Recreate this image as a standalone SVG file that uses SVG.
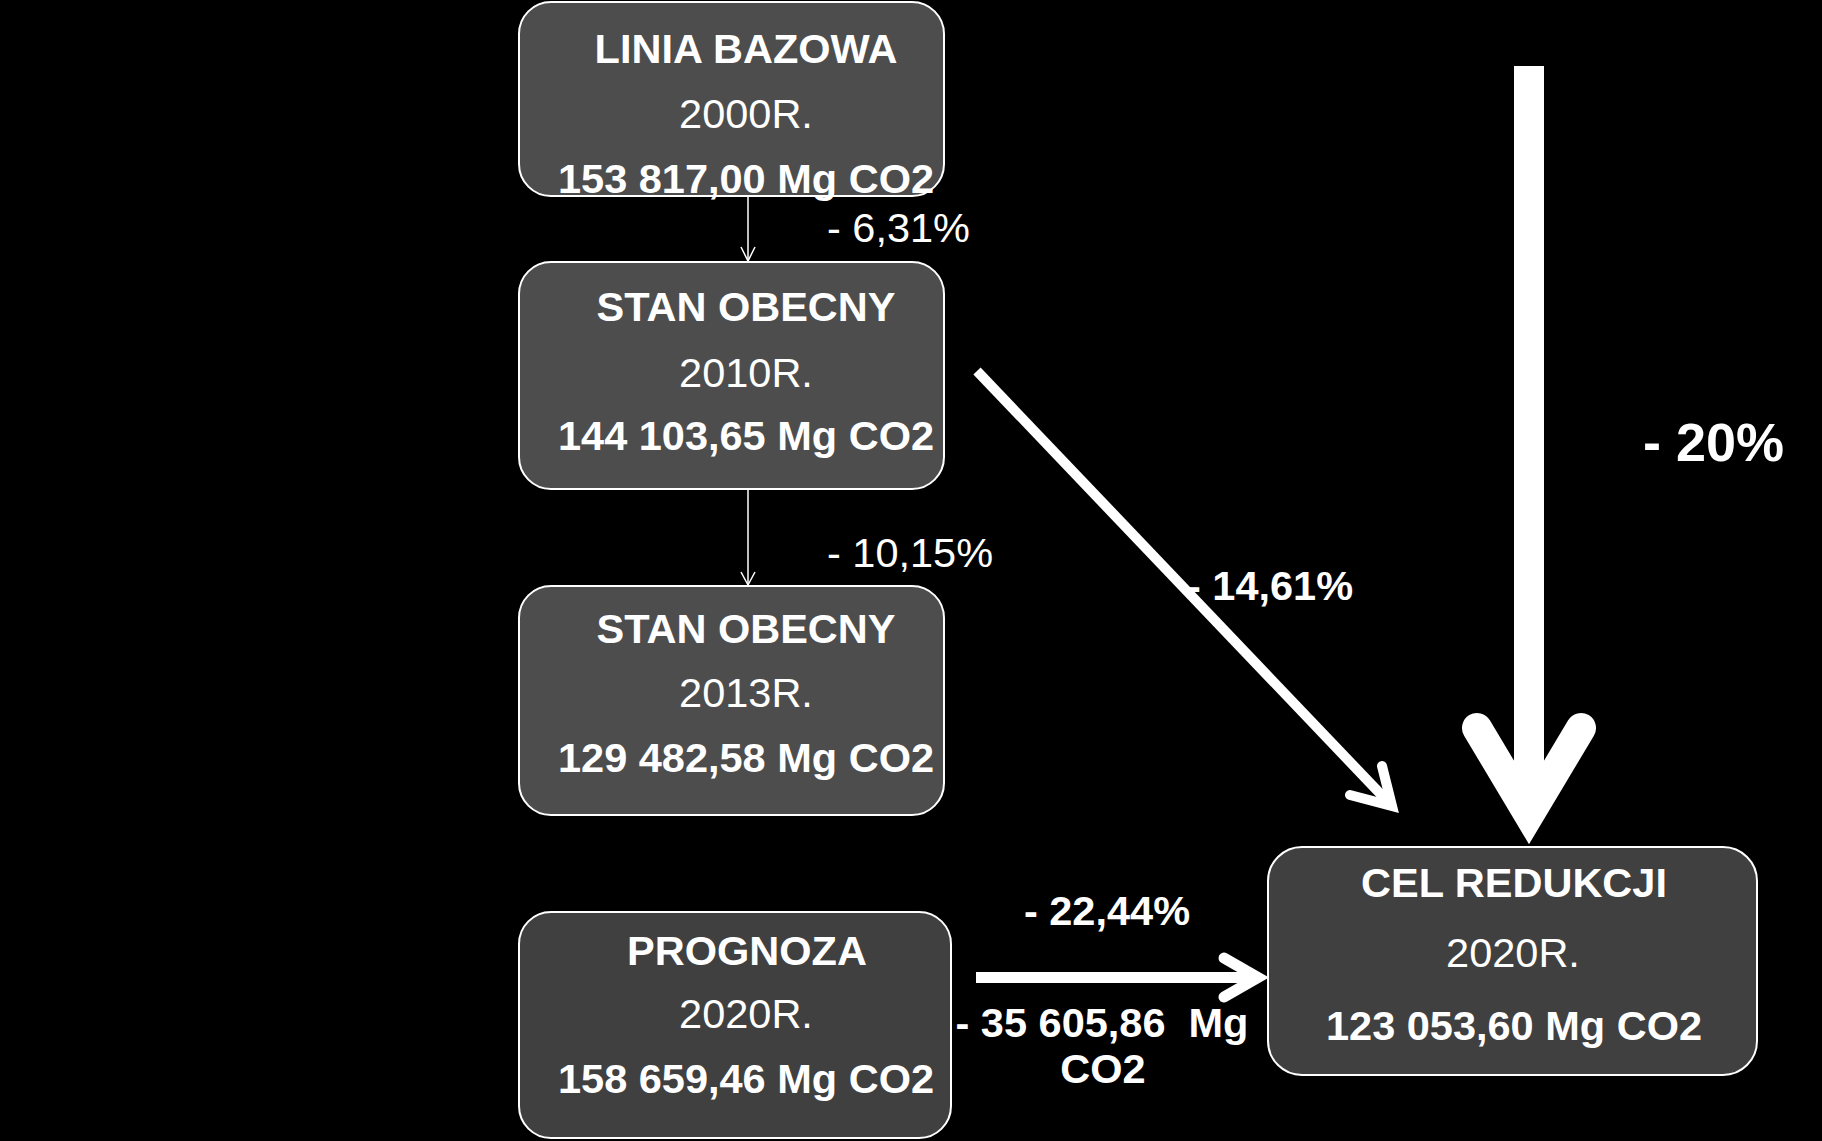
<svg xmlns="http://www.w3.org/2000/svg" width="1822" height="1141" viewBox="0 0 1822 1141">
<style>
.box{stroke:#ffffff;stroke-width:2}
.b1{fill:#4d4d4d}
.b2{fill:#404040}
text{font-family:"Liberation Sans",Arial,sans-serif;fill:#ffffff;font-size:41.5px}
.t{text-anchor:middle}
.bold{font-weight:bold}
.thin{stroke:#ffffff;stroke-width:1.5;fill:none}
.fat{stroke:#ffffff;fill:none;stroke-linecap:round;stroke-linejoin:miter;stroke-miterlimit:10}
</style>
<rect width="1822" height="1141" fill="#000000"/>
<g id="connectors">
  <line class="thin" x1="748" y1="196" x2="748" y2="261"/>
  <polyline class="thin" points="741,247 748,261 755,247"/>
  <line class="thin" x1="748" y1="489" x2="748" y2="585"/>
  <polyline class="thin" points="741,572 748,585 755,572"/>
  <line x1="977" y1="371" x2="1392" y2="806" stroke="#ffffff" stroke-width="10"/>
  <path class="fat" stroke-width="10" d="M1350,795 L1392,806 L1382,766"/>
  <line x1="1529" y1="66" x2="1529" y2="815" stroke="#ffffff" stroke-width="30"/>
  <path class="fat" stroke-width="30" d="M1477,728 L1529,815 L1581,728"/>
  <line x1="976" y1="977.5" x2="1258" y2="977.5" stroke="#ffffff" stroke-width="11"/>
  <path class="fat" stroke-width="11" d="M1224,958 L1258,977.5 L1224,997"/>
  <text x="827" y="242">- 6,31%</text>
  <text x="827" y="567">- 10,15%</text>
  <text class="bold" x="1187" y="600">- 14,61%</text>
  <text class="bold" x="1643" y="461" style="font-size:54px">- 20%</text>
  <text class="t bold" x="1107" y="925">- 22,44%</text>
  <text class="t bold" x="1102" y="1037" xml:space="preserve">- 35 605,86  Mg</text>
  <text class="t bold" x="1103" y="1083">CO2</text>
</g>
<g id="node-linia-bazowa">
  <rect class="box b1" x="519" y="2" width="425" height="194" rx="32"/>
  <text class="t bold" x="746" y="63">LINIA BAZOWA</text>
  <text class="t" x="746" y="128">2000R.</text>
  <text class="t bold" x="746" y="193">153 817,00 Mg CO2</text>
</g>
<g id="node-stan-2010">
  <rect class="box b1" x="519" y="262" width="425" height="227" rx="32"/>
  <text class="t bold" x="746" y="321">STAN OBECNY</text>
  <text class="t" x="746" y="387">2010R.</text>
  <text class="t bold" x="746" y="450">144 103,65 Mg CO2</text>
</g>
<g id="node-stan-2013">
  <rect class="box b1" x="519" y="586" width="425" height="229" rx="32"/>
  <text class="t bold" x="746" y="643">STAN OBECNY</text>
  <text class="t" x="746" y="707">2013R.</text>
  <text class="t bold" x="746" y="772">129 482,58 Mg CO2</text>
</g>
<g id="node-prognoza">
  <rect class="box b2" x="519" y="912" width="432" height="226" rx="32"/>
  <text class="t bold" x="747" y="965">PROGNOZA</text>
  <text class="t" x="746" y="1028">2020R.</text>
  <text class="t bold" x="746" y="1093">158 659,46 Mg CO2</text>
</g>
<g id="node-cel-redukcji">
  <rect class="box b2" x="1268" y="847" width="489" height="228" rx="34"/>
  <text class="t bold" x="1514" y="897">CEL REDUKCJI</text>
  <text class="t" x="1513" y="967">2020R.</text>
  <text class="t bold" x="1514" y="1040">123 053,60 Mg CO2</text>
</g>
</svg>
